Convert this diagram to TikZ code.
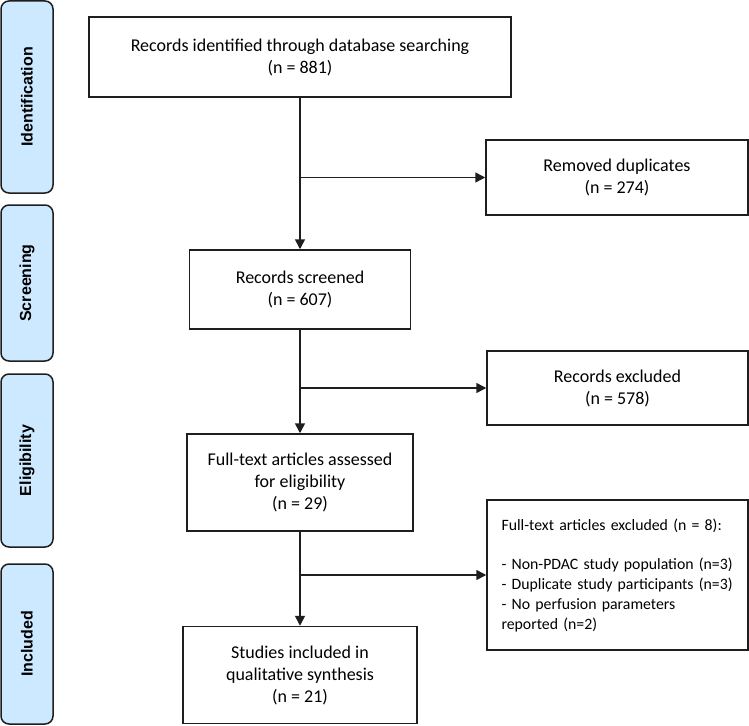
\documentclass[tikz,border=0pt]{standalone}
\usepackage{fontspec}
\setmainfont{Carlito}
\newfontfamily\sidefont{Liberation Sans}
\usetikzlibrary{arrows.meta}
\definecolor{sideblue}{RGB}{204,233,255}
\definecolor{linec}{RGB}{30,30,30}
\tikzset{
  x=1pt, y=1pt,
  mainbox/.style={draw=linec, line width=1.5pt, fill=white, inner sep=0pt, align=center,
                  font=\fontsize{18}{22}\selectfont},
  sidebox/.style={draw=linec, line width=1.5pt, fill=sideblue, rounded corners=8pt,
                  rotate=90, inner sep=0pt, minimum height=52pt,
                  font=\sidefont\bfseries\fontsize{16}{19}\selectfont},
  flow/.style={draw=linec, line width=1.5pt, -{Triangle[length=10pt,width=10pt]}},
}
\begin{document}
\begin{tikzpicture}
\useasboundingbox (0,0) rectangle (749,-725);
% side labels
\node[sidebox, minimum width=192pt] (sid) at (27,-97) {Identification};
\node[sidebox, minimum width=156pt] (sscr) at (27,-283) {Screening};
\node[sidebox, minimum width=173pt] (selig) at (27,-460.5) {Eligibility};
\node[sidebox, minimum width=160pt] (sinc) at (27,-644) {Included};
% main column
\node[mainbox, minimum width=422pt, minimum height=80pt] (top) at (300,-57)
  {Records identified through database searching\\(n = 881)};
\node[mainbox, minimum width=221pt, minimum height=79pt] (scr) at (300,-289.5)
  {Records screened\\(n = 607)};
\node[mainbox, minimum width=226pt, minimum height=97pt] (ft) at (300,-482.5)
  {Full-text articles assessed\\for eligibility\\(n = 29)};
\node[mainbox, minimum width=234pt, minimum height=97pt] (inc) at (300,-675)
  {Studies included in\\qualitative synthesis\\(n = 21)};
% right column
\node[mainbox, minimum width=262pt, minimum height=75pt] (dup) at (617,-177.5)
  {Removed duplicates\\(n = 274)};
\node[mainbox, minimum width=261pt, minimum height=74pt] (rex) at (617.5,-388)
  {Records excluded\\(n = 578)};
\node[mainbox, minimum height=150pt, text width=232pt, inner xsep=14.5pt, align=left,
      font=\fontsize{15.8}{19.8}\selectfont] (ftx) at (617.5,-575)
  {Full-text articles excluded (n = 8):\\[19.8pt]
   \mbox{- Non-PDAC study population (n=3)}\\
   \mbox{- Duplicate study participants (n=3)}\\
   - No perfusion parameters\\
   reported (n=2)};
% connectors
\draw[flow] (top.south) -- (scr.north);
\draw[flow] (top.south |- dup.west) -- (dup.west);
\draw[flow] (scr.south) -- (ft.north);
\draw[flow] (scr.south |- rex.west) -- (rex.west);
\draw[flow] (ft.south) -- (inc.north);
\draw[flow] (ft.south |- ftx.west) -- (ftx.west);
\end{tikzpicture}
\end{document}
